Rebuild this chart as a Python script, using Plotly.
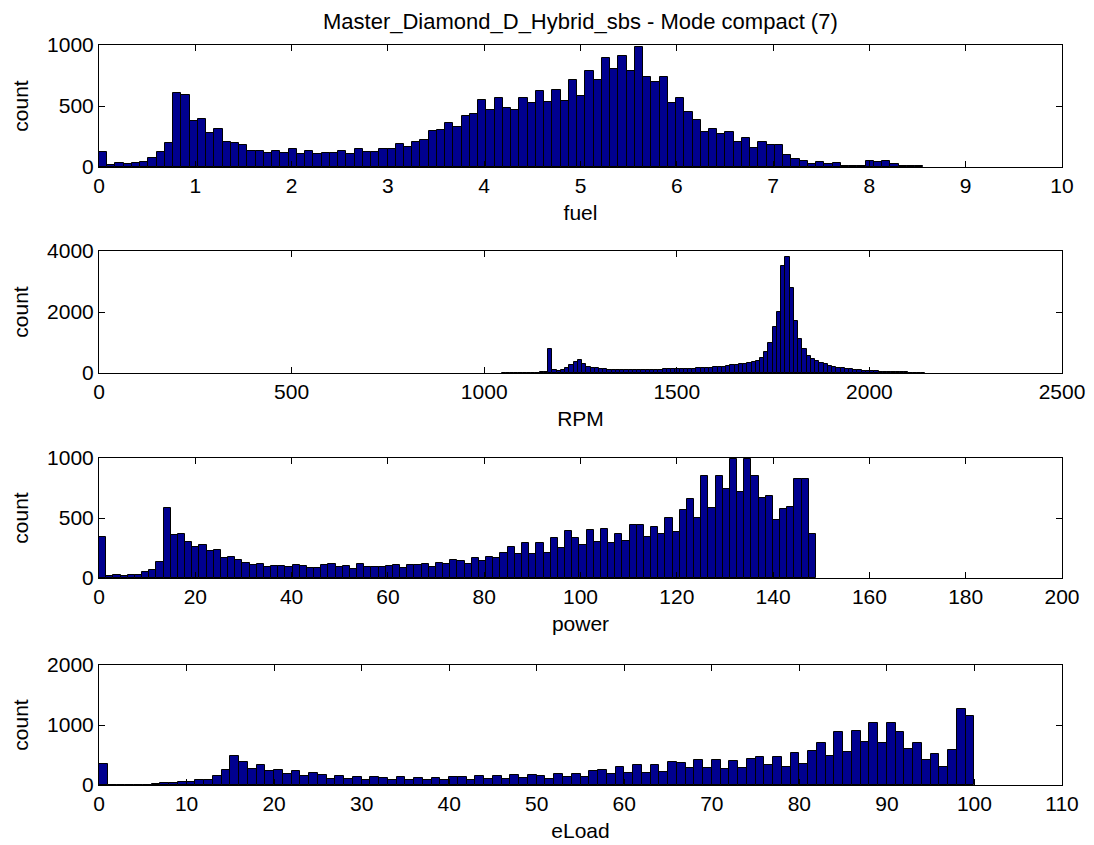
import plotly.graph_objects as go

# ---------------- data ----------------
title_text = "Master_Diamond_D_Hybrid_sbs - Mode compact (7)"

fuel_start = 0.0
fuel_width = 0.0856
fuel_counts = [125, 15, 33, 22, 33, 41, 74, 125, 193, 605,
               589, 381, 390, 281, 313, 202, 193, 177, 134, 134,
               117, 134, 117, 150, 109, 134, 109, 117, 117, 134,
               109, 150, 125, 125, 150, 150, 185, 161, 208, 221,
               294, 302, 362, 330, 414, 431, 553, 466, 564, 485,
               466, 569, 526, 621, 534, 629, 542, 717, 586, 785,
               717, 894, 801, 910, 785, 981, 741, 698, 741, 526,
               569, 450, 387, 286, 311, 267, 288, 207, 234, 155,
               202, 177, 177, 101, 65, 46, 22, 38, 22, 33,
               11, 11, 11, 46, 38, 46, 22, 11, 11, 11]

rpm_start = 1045.0
rpm_width = 11.0
rpm_counts = [8, 5, 10, 6, 12, 8, 15, 10, 12, 20,
              30, 790, 110, 60, 90, 160, 260, 350, 420, 300,
              210, 160, 150, 130, 120, 110, 110, 100, 100, 95,
              100, 95, 100, 100, 105, 100, 110, 110, 115, 120,
              120, 125, 130, 130, 140, 145, 150, 160, 170, 180,
              190, 200, 210, 230, 250, 260, 280, 300, 330, 360,
              400, 500, 700, 1000, 1500, 2000, 3500, 3800, 2800, 1700,
              1100, 800, 550, 450, 380, 330, 280, 240, 210, 180,
              160, 140, 120, 100, 90, 80, 70, 60, 50, 45,
              40, 35, 30, 25, 20, 18, 15, 12, 10, 8]

power_start = 0.0
power_width = 1.489
power_counts = [342, 16, 24, 16, 24, 24, 52, 68, 136, 587,
                359, 367, 299, 255, 272, 223, 231, 163, 179, 152,
                128, 111, 120, 95, 103, 103, 95, 111, 103, 87,
                87, 111, 120, 95, 103, 79, 120, 95, 95, 95,
                103, 111, 87, 111, 111, 120, 95, 128, 120, 152,
                144, 120, 163, 144, 179, 163, 212, 255, 196, 288,
                204, 288, 212, 332, 247, 394, 332, 272, 399, 299,
                408, 288, 367, 307, 440, 440, 340, 424, 364, 503,
                383, 563, 658, 503, 853, 587, 853, 742, 995, 717,
                995, 853, 666, 682, 486, 573, 595, 823, 823, 367]

eload_start = 0.0
eload_width = 1.0
eload_counts = [349, 3, 3, 4, 5, 8, 12, 33, 33, 54,
                54, 87, 87, 158, 256, 485, 376, 272, 338, 234,
                251, 191, 234, 158, 207, 174, 104, 158, 104, 136,
                87, 136, 120, 87, 136, 87, 125, 87, 120, 76,
                136, 136, 76, 153, 104, 153, 104, 169, 120, 169,
                153, 104, 191, 136, 191, 136, 240, 256, 191, 294,
                207, 327, 207, 327, 223, 381, 365, 278, 409, 278,
                409, 262, 392, 278, 430, 463, 327, 463, 305, 534,
                349, 567, 698, 485, 877, 550, 905, 725, 1041, 703,
                1041, 877, 599, 703, 414, 518, 305, 583, 1270, 1150]

x_labels = ["fuel", "RPM", "power", "eLoad"]
x_ranges = [[0, 10], [0, 2500], [0, 200], [0, 110]]
x_ticks = [list(range(0, 11, 1)), list(range(0, 2501, 500)),
           list(range(0, 201, 20)), list(range(0, 111, 10))]
y_ranges = [[0, 1000], [0, 4000], [0, 1000], [0, 2000]]
y_ticks = [[0, 500, 1000], [0, 2000, 4000], [0, 500, 1000], [0, 1000, 2000]]

# ---------------- figure ----------------
# page body has an 8px margin, so the figure is drawn at (8, 8) on screen
OFF = 8
W, H = 1094, 845
left_px, right_px = 95 - OFF, 1062 - OFF
tops = [45 - OFF, 251 - OFF, 458 - OFF, 665 - OFF]
bottoms = [167 - OFF, 373 - OFF, 578 - OFF, 785 - OFF]
ml, mr, mt, mb = left_px, W - right_px, tops[0], H - bottoms[-1]
plot_h = H - mt - mb

def pix_to_paper(yp):
    return (H - mb - yp) / plot_h

series = [(fuel_start, fuel_width, fuel_counts),
          (rpm_start, rpm_width, rpm_counts),
          (power_start, power_width, power_counts),
          (eload_start, eload_width, eload_counts)]

FONT = "Liberation Sans, Arial, sans-serif"
FS = 21
BAR_COLOR = "#00008F"

fig = go.Figure()
layout = dict(
    width=W, height=H,
    margin=dict(l=ml, r=mr, t=mt, b=mb),
    paper_bgcolor="white", plot_bgcolor="white",
    showlegend=False, bargap=0,
    font=dict(family=FONT, size=FS, color="black"),
)

for k, (start, width, counts) in enumerate(series):
    n = len(counts)
    centers = [start + width * (i + 0.5) for i in range(n)]
    suffix = "" if k == 0 else str(k + 1)
    fig.add_trace(go.Bar(
        x=centers, y=counts, width=[width] * n,
        marker=dict(color=BAR_COLOR, line=dict(color="black", width=1)),
        xaxis="x" + suffix, yaxis="y" + suffix,
        hoverinfo="x+y",
    ))
    dom = [pix_to_paper(bottoms[k]), pix_to_paper(tops[k])]
    common = dict(showline=True, linecolor="black", linewidth=1, mirror="ticks",
                  ticks="inside", ticklen=6, tickcolor="black", showgrid=False,
                  zeroline=False, tickfont=dict(family=FONT, size=FS, color="black"))
    layout["xaxis" + suffix] = dict(
        common, domain=[0, 1], anchor="y" + suffix, range=x_ranges[k],
        tickmode="array", tickvals=x_ticks[k], ticktext=[str(v) for v in x_ticks[k]],
        title=dict(text=x_labels[k], standoff=9, font=dict(family=FONT, size=FS)),
    )
    layout["yaxis" + suffix] = dict(
        common, domain=dom, anchor="x" + suffix, range=y_ranges[k],
        tickmode="array", tickvals=y_ticks[k], ticktext=[str(v) for v in y_ticks[k]],
        title=dict(text="count", standoff=12, font=dict(family=FONT, size=FS)),
    )

layout["annotations"] = [dict(
    text=title_text, x=0.5, xref="paper", yref="paper", showarrow=False,
    y=1 + (mt - 14) / plot_h, yanchor="middle",
    font=dict(family=FONT, size=22, color="black"),
)]
fig.update_layout(**layout)

fig.write_html("out.html")
